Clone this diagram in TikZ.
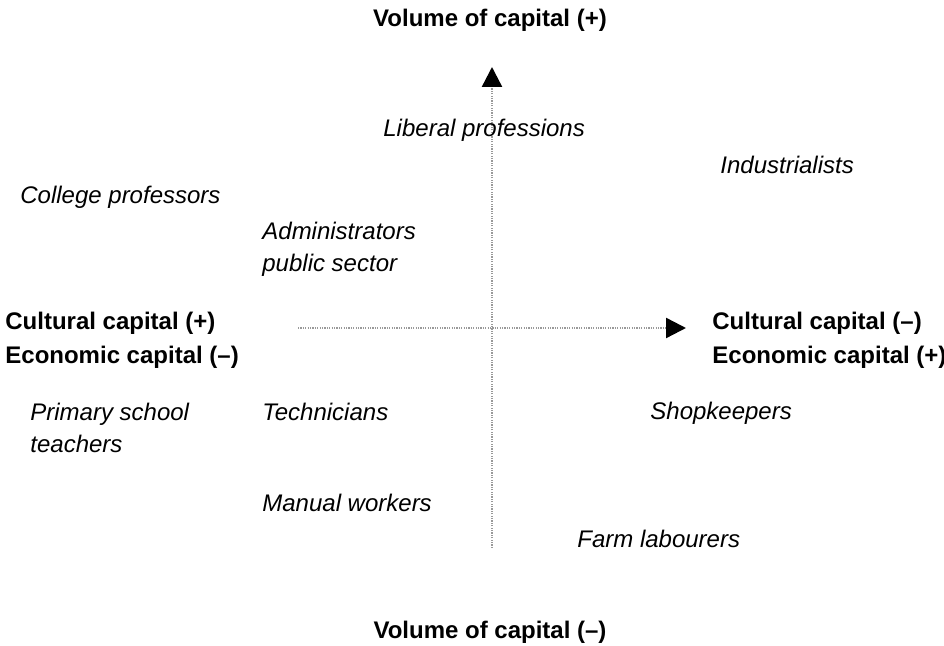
\documentclass[tikz,border=0pt]{standalone}
\usepackage{fontspec}
\setmainfont{Liberation Sans}
\usepackage{tikz}
\usetikzlibrary{arrows.meta}

\begin{document}
\begin{tikzpicture}[x=0.5pt, y=-0.5pt,
  axis/.style={draw=black!40, line width=1.2pt, dash pattern=on 0.6pt off 0.6pt, -{Triangle[length=10pt,width=10pt,color=black]}},
  pole/.style={font=\fontsize{12pt}{17pt}\selectfont\bfseries, align=left, inner sep=0pt},
  group/.style={font=\fontsize{12pt}{16pt}\selectfont\itshape, align=left, inner sep=0pt, anchor=west}]
  \useasboundingbox (0,0) rectangle (944,646);
  % axes
  \coordinate (vbot) at (492,548);
  \coordinate (vtop) at (492,67);
  \coordinate (hleft) at (298,328);
  \coordinate (hright) at (686,328);
  \draw[axis] (vbot) -- (vtop);
  \draw[axis] (hleft) -- (hright);
  % poles
  \node[pole] (volplus) at (490,20) {Volume of capital (+)};
  \node[pole] (volminus) at (490,632) {Volume of capital (--)};
  \node[pole, anchor=west] (culplus) at (5,340) {Cultural capital (+)\\Economic capital (--)};
  \node[pole, anchor=west] (culminus) at (712,340) {Cultural capital (--)\\Economic capital (+)};
  % occupations
  \node[group] (liberal) at (383,130) {Liberal professions};
  \node[group] (industry) at (720,165) {Industrialists};
  \node[group] (college) at (20,197) {College professors};
  \node[group] (admin) at (262,249) {Administrators\\public sector};
  \node[group] (primary) at (30,428) {Primary school\\teachers};
  \node[group] (tech) at (262,412) {Technicians};
  \node[group] (shop) at (650,413) {Shopkeepers};
  \node[group] (manual) at (262,503) {Manual workers};
  \node[group] (farm) at (577,539) {Farm labourers};
\end{tikzpicture}
\end{document}
